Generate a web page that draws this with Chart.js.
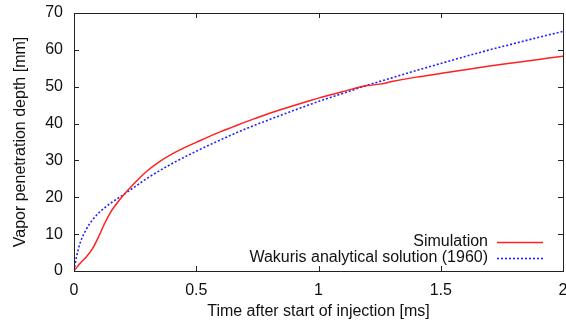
<!DOCTYPE html>
<html>
<head>
<meta charset="utf-8">
<script src="https://cdn.jsdelivr.net/npm/chart.js@4"></script>
<style>
    html, body { margin: 0; padding: 0; background: #fff; overflow: hidden; }
    #wrap { width: 566px; height: 325px; }
</style>
</head>
<body>
<div id="wrap"><canvas id="penChart"></canvas></div>
<script>
// values
const simTime = [0, 0.025, 0.05, 0.075, 0.1, 0.125, 0.15, 0.175, 0.2, 0.25, 0.3, 0.35, 0.4, 0.45, 0.5, 0.55, 0.6, 0.65, 0.7, 0.75, 0.8, 0.85, 0.9, 0.95, 1.0, 1.1, 1.15, 1.2, 1.25, 1.3, 1.4, 1.5, 1.6, 1.7, 1.8, 1.9, 2.0];
const simDepth = [0, 2.1, 3.8, 6.0, 9.2, 12.9, 16.0, 18.3, 20.4, 24.0, 27.2, 29.7, 31.7, 33.4, 34.9, 36.4, 37.8, 39.1, 40.4, 41.6, 42.8, 43.9, 44.9, 45.9, 46.9, 48.7, 49.6, 50.3, 50.7, 51.4, 52.6, 53.6, 54.6, 55.6, 56.5, 57.4, 58.3];

const wakTime = [0, 0.01, 0.025, 0.05, 0.075, 0.1, 0.15, 0.2, 0.25, 0.3, 0.4, 0.5, 0.6, 0.7, 0.8, 0.9, 1.0, 1.1, 1.2, 1.3, 1.4, 1.5, 1.6, 1.7, 1.8, 1.9, 2.0];
const wakDepth = [0, 3.8, 7.6, 11.3, 13.8, 15.7, 18.4, 20.6, 22.9, 25.2, 29.1, 32.5, 35.6, 38.5, 41.1, 43.6, 46.0, 48.2, 50.4, 52.4, 54.4, 56.3, 58.2, 60.0, 61.7, 63.4, 65.0];

const xTicks = [0, 0.5, 1, 1.5, 2];
const yTicks = [0, 10, 20, 30, 40, 50, 60, 70];

const FONT = "'Liberation Sans', Arial, sans-serif";
const FSIZE = 16;

// zip x and y lists into points for the linear x axis
const toPoints = (xs, ys) => xs.map((x, i) => ({ x: x, y: ys[i] }));

// gnuplot style: full frame + inward ticks on all four sides
const framePlugin = {
    id: "frame",
    afterDatasetsDraw(chart) {
        const ctx = chart.ctx;
        const a = chart.chartArea;
        const xs = chart.scales.x;
        const ys = chart.scales.y;
        const len = 5;
        ctx.save();
        ctx.strokeStyle = "#222";
        ctx.lineWidth = 1;
        ctx.beginPath();
        xTicks.forEach(v => {
            const px = Math.round(xs.getPixelForValue(v)) + 0.5;
            ctx.moveTo(px, a.bottom); ctx.lineTo(px, a.bottom - len);
            ctx.moveTo(px, a.top); ctx.lineTo(px, a.top + len);
        });
        yTicks.forEach(v => {
            const py = Math.round(ys.getPixelForValue(v)) + 0.5;
            ctx.moveTo(a.left, py); ctx.lineTo(a.left + len, py);
            ctx.moveTo(a.right, py); ctx.lineTo(a.right - len, py);
        });
        ctx.stroke();
        ctx.strokeRect(Math.round(a.left) + 0.5, Math.round(a.top) + 0.5,
            Math.round(a.right - a.left), Math.round(a.bottom - a.top));
        ctx.restore();
    }
};

// legend in the lower right: text right aligned, sample line after it
const keyPlugin = {
    id: "key",
    afterDatasetsDraw(chart) {
        const ctx = chart.ctx;
        const a = chart.chartArea;
        const textRight = a.right - 75;
        const lineStart = a.right - 66;
        const lineEnd = a.right - 20;
        ctx.save();
        ctx.font = FSIZE + "px " + FONT;
        ctx.textAlign = "right";
        ctx.textBaseline = "middle";
        chart.data.datasets.forEach((ds, i) => {
            const y = a.bottom - 29.5 + i * 16.5;
            ctx.fillStyle = "#111";
            ctx.fillText(ds.label, textRight, y);
            ctx.strokeStyle = ds.borderColor;
            ctx.lineWidth = ds.borderWidth;
            ctx.setLineDash(ds.borderDash || []);
            ctx.beginPath();
            ctx.moveTo(lineStart, Math.round(y) + 0.5);
            ctx.lineTo(lineEnd, Math.round(y) + 0.5);
            ctx.stroke();
        });
        ctx.restore();
    }
};

const chart = new Chart(document.getElementById("penChart"), {
    type: "line",
    data: {
        datasets: [{
            label: "Simulation",
            data: toPoints(simTime, simDepth),
            borderColor: "#ff2020",
            borderWidth: 1.5,
            pointRadius: 0,
            cubicInterpolationMode: "monotone",
            fill: false
        }, {
            label: "Wakuris analytical solution (1960)",
            data: toPoints(wakTime, wakDepth),
            borderColor: "#2020ff",
            borderWidth: 1.6,
            borderDash: [2, 2],
            pointRadius: 0,
            cubicInterpolationMode: "monotone",
            fill: false
        }]
    },
    options: {
        responsive: true,
        maintainAspectRatio: false,
        animation: false,
        layout: { padding: { top: 13, right: 3, left: 0, bottom: 0 } },
        plugins: {
            legend: { display: false },
            tooltip: { enabled: false }
        },
        scales: {
            x: {
                type: "linear",
                min: 0,
                max: 2,
                border: { display: false },
                grid: { display: false },
                afterBuildTicks: (s) => { s.ticks = xTicks.map(v => ({ value: v })); },
                afterFit: (s) => { s.paddingRight = 0; s.paddingLeft = 0; s.height = 54; },
                ticks: {
                    padding: 2,
                    color: "#111",
                    maxRotation: 0,
                    font: { family: FONT, size: FSIZE },
                    callback: (v) => String(v)
                },
                title: {
                    display: true,
                    text: "Time after start of injection [ms]",
                    color: "#111",
                    font: { family: FONT, size: FSIZE },
                    padding: { top: 0, bottom: 4 }
                }
            },
            y: {
                min: 0,
                max: 70,
                border: { display: false },
                grid: { display: false },
                afterBuildTicks: (s) => { s.ticks = yTicks.map(v => ({ value: v })); },
                afterFit: (s) => { s.width = 74; s.paddingTop = 0; s.paddingBottom = 0; },
                ticks: {
                    padding: 3,
                    color: "#111",
                    font: { family: FONT, size: FSIZE }
                },
                title: {
                    display: true,
                    text: "Vapor penetration depth [mm]",
                    color: "#111",
                    font: { family: FONT, size: FSIZE },
                    padding: { top: 11, bottom: 0 }
                }
            }
        }
    },
    plugins: [framePlugin, keyPlugin]
});
</script>
</body>
</html>
